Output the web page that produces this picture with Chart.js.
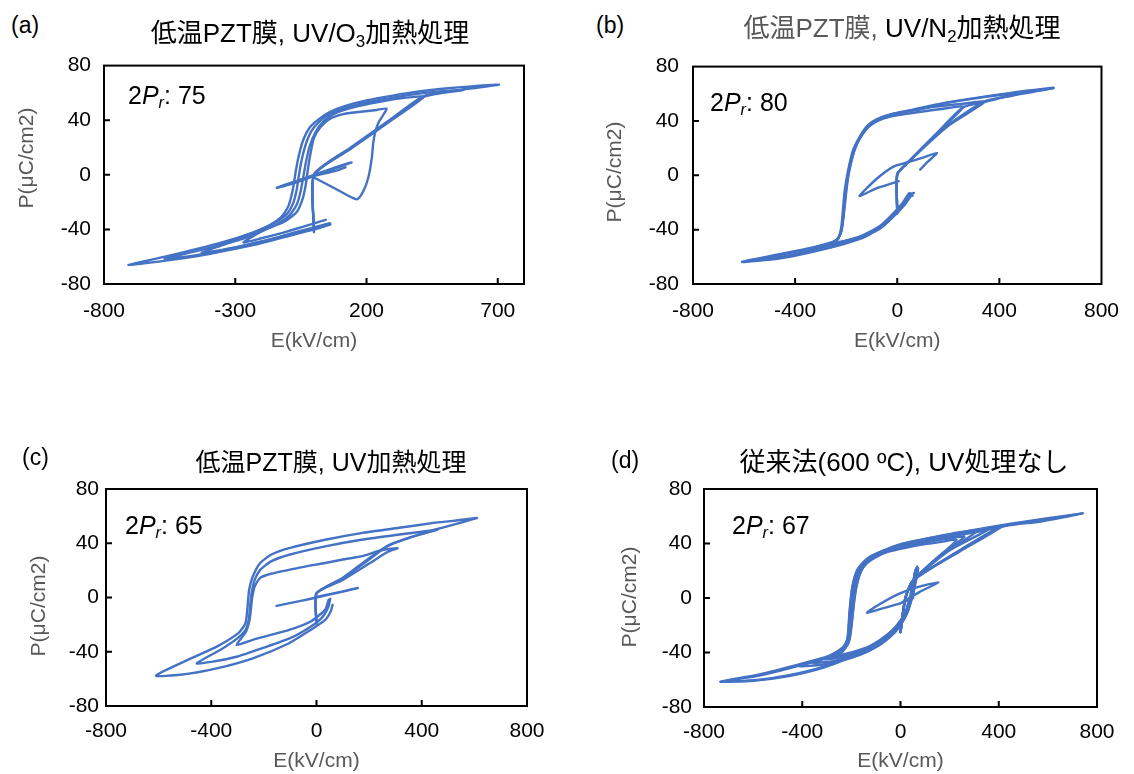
<!DOCTYPE html>
<html><head><meta charset="utf-8">
<script src="https://cdn.jsdelivr.net/npm/chart.js@4.4.1/dist/chart.umd.min.js"></script>
<style>
body{margin:0;width:1134px;height:774px;background:#fff;position:relative;overflow:hidden;font-family:"Liberation Sans",Arial,"Noto Sans CJK JP",sans-serif;}
canvas{position:absolute;}
.lbl{position:absolute;font-size:23px;color:#000;line-height:1;white-space:nowrap;transform:translateY(-50%);}
.ttl{position:absolute;font-size:26px;color:#000;white-space:nowrap;transform:translate(-50%,-50%);line-height:1;}
.ann{position:absolute;font-size:25px;color:#000;white-space:nowrap;line-height:1;transform:translateY(-50%);}
sub{font-size:0.65em;vertical-align:-0.3em;line-height:0;}
.gray{color:#595959;}
</style></head><body>
<canvas id="ca" width="560" height="314" style="left:0;top:40px"></canvas>
<canvas id="cb" width="554" height="314" style="left:580px;top:40px"></canvas>
<canvas id="cc" width="560" height="314" style="left:0;top:460px"></canvas>
<canvas id="cd" width="554" height="314" style="left:580px;top:460px"></canvas>

<div class="lbl" style="left:11px;top:25px">(a)</div>
<div class="lbl" style="left:596px;top:25px">(b)</div>
<div class="lbl" style="left:22px;top:457px">(c)</div>
<div class="lbl" style="left:611px;top:460px">(d)</div>

<div class="ttl" style="left:310px;top:33px">低温PZT膜, UV/O<sub>3</sub>加熱処理</div>
<div class="ttl" style="left:902px;top:28px"><span class="gray">低温PZT膜,</span> UV/N<sub>2</sub>加熱処理</div>
<div class="ttl" style="left:331px;top:462px;font-size:25px">低温PZT膜, UV加熱処理</div>
<div class="ttl" style="left:904px;top:462px">従来法(600 ºC), UV処理なし</div>

<div class="ann" style="left:128px;top:95px">2<i>P</i><sub><i>r</i></sub>: 75</div>
<div class="ann" style="left:710px;top:102px">2<i>P</i><sub><i>r</i></sub>: 80</div>
<div class="ann" style="left:125px;top:525px">2<i>P</i><sub><i>r</i></sub>: 65</div>
<div class="ann" style="left:732px;top:525px">2<i>P</i><sub><i>r</i></sub>: 67</div>

<script>
// ---- tick values ----
const xTicksA = [-800, -300, 200, 700];
const xTicksBCD = [-800, -400, 0, 400, 800];
const yTicks = [-80, -40, 0, 40, 80];
const xTitle = 'E(kV/cm)';
const yTitle = 'P(μC/cm2)';

// ---- panel (a): [E (kV/cm), P (μC/cm2)] ----
const aSmall = [[0,0],[60,4],[143,9],[100,6],[40,2],[0,0],[-60,-4],[-142,-9.5],[-90,-7],[-30,-3],[0,-1],[86,3],[120,5.5]];
const aLoop1 = [[0,-2],[80,-10],[163,-18],[188,-12],[207,-2],[220,12],[226,24],[233,31],[245,38],[264,44],[277,48.5],[239,47.5],[170,46],[112,44.5],[60,41],[25,35],[0,27],[-14,15],[-24,3],[-32,-8],[-44,-18],[-65,-27],[-110,-34],[-200,-41.5],[-269,-49.5],[-200,-46.5],[-120,-42.5],[-40,-38],[10,-35],[45,-33]];
const aLoop2 = [[0,-40],[0,0],[140,19],[280,38],[417,57],[350,56.5],[250,53.5],[150,49.5],[80,45],[35,39],[5,31],[-18,20],[-32,8],[-42,-3],[-52,-13],[-66,-22],[-95,-30],[-150,-37],[-250,-45.5],[-340,-51],[-428,-57],[-350,-55],[-250,-51],[-150,-46.5],[-60,-41.5],[10,-38],[60,-35.5]];
const aLoop3 = [[0,-41],[0,0],[140,19.5],[280,38.5],[417,57],[490,60],[569,62],[500,61.5],[400,59.5],[300,56.5],[200,53],[120,49],[60,44.5],[20,39],[-10,32],[-32,22],[-48,10],[-58,-1],[-66,-11],[-78,-20],[-100,-28],[-140,-34],[-200,-40],[-280,-46],[-370,-52],[-460,-56.5],[-569,-61.5],[-480,-59.8],[-380,-56.5],[-280,-52.5],[-180,-48],[-80,-43],[0,-39.5],[62,-36]];
const aLoop4 = [[0,-42],[0,0],[140,20],[280,39],[417,57.5],[569,62.5],[705,66],[600,64.8],[500,63.2],[400,61],[300,58],[200,54.5],[120,50.5],[60,46],[20,41],[-15,35],[-40,26],[-58,14],[-70,2],[-78,-8],[-88,-17],[-100,-24],[-125,-31],[-170,-37],[-250,-43.5],[-350,-49.5],[-450,-54.5],[-580,-60.5],[-707,-66],[-600,-63.8],[-500,-61.2],[-400,-58],[-300,-54.2],[-200,-50],[-100,-45],[-30,-41.5],[20,-39],[62,-36.5]];

// ---- panel (b) ----
const bSmall = [[6,-4.3],[-80,-9.5],[-148,-15.2],[-77,-2],[-13,6.6],[39,9.5],[100,13],[155,16.4],[120,10],[90,4.2]];
const bLoop1 = [[0,-28],[0,0.5],[39,9],[150,30],[258,50.3],[180,49],[100,47],[30,45],[-30,43],[-77,40],[-110,36],[-140,29],[-165,20],[-183,8],[-195,-5],[-203,-18],[-210,-30],[-218,-40],[-232,-46.5],[-258,-50],[-200,-48],[-130,-45],[-60,-38],[-15,-30],[25,-22],[50,-15]];
const bLoop2 = [[0,-28],[0,0.5],[39,9],[200,36.5],[342,54],[250,52.5],[150,50.5],[50,47.5],[-30,44.5],[-80,41],[-115,36.5],[-145,28.5],[-170,19],[-188,6],[-200,-8],[-208,-22],[-214,-34],[-222,-43],[-240,-48.5],[-335,-54],[-250,-51.5],[-150,-46.5],[-70,-39.5],[-15,-30.5],[30,-21.5],[58,-14]];
const bLoop3 = [[0,-28],[0,0.5],[39,9],[200,37],[342,54.5],[450,58.5],[612,64.4],[500,62],[438,60.5],[309,57],[180,53],[100,50],[52,48],[-13,45.5],[-77,41.5],[-116,36.5],[-148,28],[-174,18],[-193,3],[-206,-11.6],[-213,-26],[-219,-38],[-232,-46.8],[-258,-50],[-335,-54],[-464,-58.9],[-608,-63.8],[-464,-61.3],[-335,-56.5],[-206,-50.4],[-129,-45.6],[-52,-36],[-13,-28.6],[26,-21.3],[52,-14],[65,-13]];
const bLoop4 = [[0,-26],[0,1],[45,10],[160,32],[258,50],[342,54],[460,59.5],[612,64.2],[480,61],[340,57.5],[200,53.5],[100,49],[20,46],[-50,42.5],[-100,38],[-135,31],[-160,22],[-180,10],[-196,-4],[-205,-18],[-212,-32],[-220,-42],[-240,-48],[-330,-53],[-460,-58],[-608,-63.5],[-470,-60.5],[-340,-55.5],[-215,-49],[-140,-44.5],[-65,-37],[-20,-29],[20,-20.5],[48,-13],[60,-15]];

// ---- panel (c) ----
const cSmall = [[-152,-6.2],[-60,-2.5],[0,0],[80,3.5],[157,7],[100,4.5],[0,0.5]];
const cLoop1 = [[0,-19],[0,3],[100,13],[200,25],[270,33.5],[308,36.4],[250,35],[170,30.3],[100,28],[33,25.4],[-40,23],[-104,20.4],[-173,17.5],[-214,14.5],[-235,8],[-245,-1],[-250,-10],[-256,-18],[-270,-26],[-304,-35],[-242,-31.2],[-104,-23.9],[-22,-17.7],[33,-9.1],[46,-1.7]];
const cLoop2 = [[0,-19],[0,3],[100,14],[200,28],[267,37.7],[350,44],[459,50],[400,48.5],[308,46.3],[170,42.6],[33,37.7],[-104,31.5],[-173,26.6],[-214,20.4],[-235,13],[-247,3],[-253,-8],[-258,-17],[-270,-24],[-300,-30],[-360,-38],[-455,-48.5],[-400,-47.5],[-300,-43.5],[-200,-37],[-100,-30],[-30,-22.5],[20,-15],[45,-7],[52,-1]];
const cLoop3 = [[0,-19],[0,3],[100,14.5],[200,29],[280,39],[360,44.5],[460,50.5],[610,58.6],[520,56.5],[445,55],[308,51.2],[170,47.5],[33,42.6],[-104,36.4],[-173,31.5],[-214,25.4],[-242,15.5],[-256,5.7],[-263,-9],[-270,-19],[-297,-26.3],[-379,-36.2],[-489,-46],[-610,-57.6],[-517,-57],[-379,-52.2],[-242,-44.8],[-104,-33.7],[-22,-23.9],[33,-16.5],[54,-10.3],[61,-5.4]];

// ---- panel (d) ----
const dSmall = [[0,-4],[80,4.7],[154,11.3],[80,8.5],[-2,3.4],[-80,-4],[-137,-10.8],[-80,-8],[-2,-3.9],[52,0]];
const dLoop1 = [[0,-25],[20,0],[52,13],[140,28],[228,42.6],[160,41],[100,39.5],[25,37],[-50,34],[-100,30],[-140,25],[-165,18],[-180,8],[-190,-5],[-198,-18],[-205,-28],[-215,-34],[-240,-39],[-280,-43],[-200,-40],[-120,-35],[-60,-28],[-15,-20],[20,-10],[40,2],[55,15],[62,21]];
const dLoop2 = [[0,-25],[20,0],[52,13],[180,33],[309,48.7],[230,46.5],[160,44],[80,41],[0,38],[-70,34],[-120,29],[-155,22],[-175,12],[-188,0],[-196,-14],[-204,-26],[-212,-33],[-240,-40],[-310,-45],[-240,-43.5],[-150,-39.5],[-80,-33],[-30,-25],[10,-16],[35,-5],[50,8],[58,18],[65,22]];
const dLoop3 = [[0,-25],[20,0],[52,13],[240,34],[411,52.4],[330,50.5],[230,48],[160,45.5],[80,42.5],[0,39.5],[-83,33],[-137,27],[-170,20],[-190,8],[-200,-8],[-208,-22],[-215,-32],[-240,-39],[-300,-44],[-410,-50],[-320,-49],[-220,-45],[-130,-39],[-60,-31],[-10,-22],[25,-12],[45,0],[55,12],[62,19]];
const dLoop4 = [[0,-25],[20,0],[52,13],[250,36],[411,52.4],[566,56],[742,62.1],[566,56.5],[431,53],[296,48],[160,43.5],[25,38.5],[-83,32.3],[-137,27.5],[-178,19],[-198,6],[-208,-11],[-216,-30],[-232,-35.7],[-259,-39.4],[-300,-43],[-449,-50.4],[-584,-56.5],[-733,-61.4],[-584,-60.2],[-449,-56.5],[-313,-50.4],[-178,-40.6],[-83,-30.8],[-16,-21],[25,-11.2],[52,3.4],[66,15.7],[72,21.8]];
const dLoop5 = [[0,-25],[20,0],[52,13],[160,31],[260,45],[190,43.5],[120,41.5],[40,38.5],[-40,35],[-95,31],[-135,26],[-162,20],[-180,10],[-192,-2],[-201,-16],[-209,-27],[-220,-35],[-250,-40.5],[-295,-44],[-220,-42],[-140,-37.5],[-70,-30],[-20,-22],[15,-13],[38,-2],[52,10],[60,20]];
const dLoop6 = [[0,-25],[20,0],[52,13],[200,35],[360,50.5],[280,49],[200,46.5],[120,44],[40,41],[-40,37],[-100,32],[-145,26],[-172,18],[-190,6],[-199,-8],[-206,-21],[-213,-31],[-235,-38],[-290,-43.5],[-360,-47.5],[-280,-46.5],[-190,-42.5],[-110,-37],[-45,-29],[0,-20],[30,-9],[48,4],[57,16],[68,23]];
const dLoop7 = [[0,-25],[20,0],[52,13],[260,37],[420,53],[600,58],[742,62.1],[600,58.5],[450,54.5],[300,50],[160,45],[25,40],[-80,34],[-135,29],[-175,21],[-196,8],[-206,-9],[-214,-28],[-228,-35],[-255,-39],[-300,-43.5],[-450,-51.5],[-590,-57.5],[-733,-61.4],[-600,-60.8],[-460,-57.5],[-320,-51.5],[-185,-42],[-90,-32.5],[-20,-22.5],[22,-12.5],[48,1],[62,13],[70,20]];

const LINE = '#4472C4';
const FONT = "'Liberation Sans', Arial, sans-serif";

const frame = {
  id: 'frame',
  afterDatasetsDraw(chart) {
    const {ctx, chartArea: a, scales: {x, y}} = chart;
    ctx.save();
    ctx.strokeStyle = '#000';
    ctx.lineWidth = 2;
    ctx.strokeRect(a.left, a.top, a.right - a.left, a.bottom - a.top);
    ctx.beginPath();
    x.ticks.forEach(t => {
      const p = x.getPixelForValue(t.value);
      if (p > a.left + 2 && p < a.right - 2) { ctx.moveTo(p, a.bottom); ctx.lineTo(p, a.bottom - 6); }
    });
    y.ticks.forEach(t => {
      const p = y.getPixelForValue(t.value);
      if (p > a.top + 2 && p < a.bottom - 2) { ctx.moveTo(a.left, p); ctx.lineTo(a.left + 6, p); }
    });
    ctx.stroke();
    ctx.restore();
  }
};

// y-axis title placed at a given position (canvas coords)
const yTitlePlugin = {
  id: 'ytitle',
  afterDraw(chart, args, o) {
    const ctx = chart.ctx;
    ctx.save();
    ctx.translate(o.x, o.y);
    ctx.rotate(-Math.PI / 2);
    ctx.font = '21px ' + FONT;
    ctx.fillStyle = '#595959';
    ctx.textAlign = 'center';
    ctx.textBaseline = 'middle';
    ctx.fillText(o.text, 0, 0);
    ctx.restore();
  }
};

function toXY(arr) { return arr.map(p => ({x: p[0], y: p[1]})); }

function panel(id, loops, xt, g) {
  const datasets = loops.map(l => ({
    data: toXY(l), showLine: true, borderColor: LINE, backgroundColor: LINE,
    borderWidth: 2.4, pointRadius: 0, tension: 0.2, fill: false,
    borderJoinStyle: 'round', borderCapStyle: 'round'
  }));
  new Chart(document.getElementById(id), {
    type: 'scatter',
    data: { datasets },
    options: {
      responsive: false, animation: false, devicePixelRatio: 1,
      layout: { padding: { left: 0, top: g.pt, right: g.pr, bottom: 0 } },
      plugins: { legend: { display: false }, tooltip: { enabled: false },
                 ytitle: { text: yTitle, x: g.ytx, y: g.yty } },
      scales: {
        x: {
          type: 'linear', position: 'bottom', min: -800, max: 800,
          afterBuildTicks: s => { s.ticks = xt.map(v => ({value: v})); },
          afterFit: s => { s.height = g.xh; },
          grid: { display: false, drawTicks: false }, border: { display: false },
          ticks: { color: '#000', font: { family: FONT, size: 21 }, padding: g.xtp, maxRotation: 0, autoSkip: false },
          title: { display: true, text: xTitle, color: '#595959', font: { family: FONT, size: 21 }, padding: { top: 0, bottom: 0 } }
        },
        y: {
          type: 'linear', position: 'left', min: -80, max: 80,
          afterBuildTicks: s => { s.ticks = yTicks.map(v => ({value: v})); },
          afterFit: s => { s.width = g.yw; },
          grid: { display: false, drawTicks: false }, border: { display: false },
          ticks: { color: '#000', font: { family: FONT, size: 21 }, padding: g.ytp, autoSkip: false },
          title: { display: false, text: yTitle }
        }
      }
    },
    plugins: [frame, yTitlePlugin]
  });
}

panel('ca', [aSmall, aLoop1, aLoop2, aLoop3, aLoop4], xTicksA, {pt: 23, pr: 36, xh: 70, yw: 104, xtp: 15, ytp: 13, ytx: 27, yty: 118});
panel('cb', [bSmall, bLoop1, bLoop2, bLoop3, bLoop4], xTicksBCD, {pt: 24, pr: 27, xh: 70, yw: 113, xtp: 15, ytp: 14, ytx: 35, yty: 132});
panel('cc', [cSmall, cLoop1, cLoop2, cLoop3], xTicksBCD, {pt: 29, pr: 33, xh: 68, yw: 106, xtp: 13, ytp: 7, ytx: 39, yty: 146});
panel('cd', [dSmall, dLoop1, dLoop2, dLoop3, dLoop4, dLoop5, dLoop6, dLoop7], xTicksBCD, {pt: 29, pr: 37, xh: 67, yw: 124, xtp: 13, ytp: 12, ytx: 50, yty: 137});
</script>
</body></html>
